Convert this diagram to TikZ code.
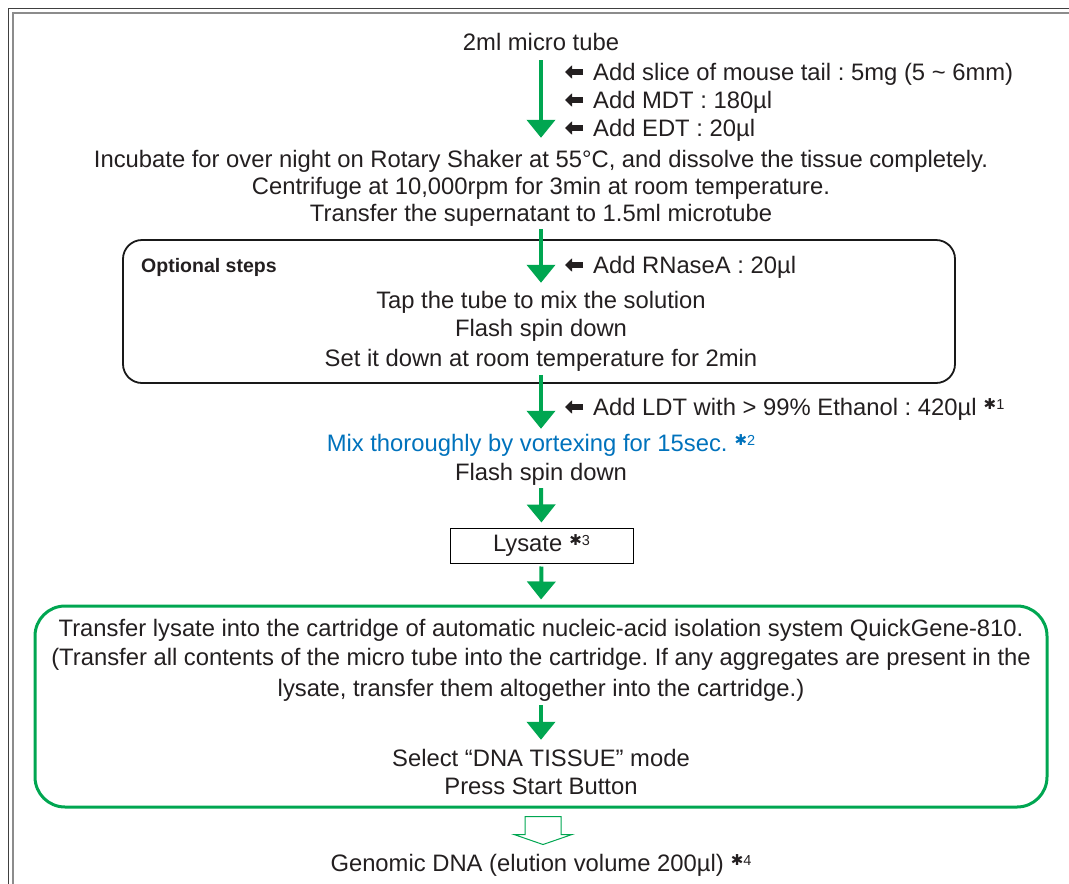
\documentclass[tikz,border=0pt]{standalone}
\usepackage{fontspec}
\setmainfont{Liberation Sans}
\newfontfamily\symfont{DejaVu Sans}
\usetikzlibrary{arrows.meta,calc}
\definecolor{gr}{RGB}{0,166,81}
\definecolor{bl}{RGB}{0,114,188}
\definecolor{tx}{RGB}{35,31,32}
\frenchspacing
\newcommand\astnote[1]{\hspace{7pt}\raisebox{6pt}{{\fontsize{15}{15}\selectfont\symfont ✱}{\fontsize{14.5}{15}\selectfont #1}}}
\tikzset{
  txt/.style={inner sep=0pt, text height=17pt, text depth=5pt, font=\fontsize{23.8}{28}\selectfont\frenchspacing, text=tx},
  garrow/.style={draw=gr, line width=4pt, -{Triangle[length=18pt,width=28pt]}},
  barrow/.style={draw=tx, line width=5.5pt, -{Triangle[length=7pt,width=13pt]}},
  optbox/.style={draw=black!90, line width=1.8pt, rounded corners=19pt, inner sep=0pt},
  grbox/.style={draw=gr, line width=3pt, rounded corners=30pt, inner sep=0pt},
  lybox/.style={draw=black, line width=1pt, inner sep=0pt},
}
\begin{document}
\begin{tikzpicture}[x=1pt,y=-1pt]
\useasboundingbox (0,0) rectangle (1069,884);
% outer frame
\draw[draw=black!75, line width=1pt] (8.5,884) -- (8.5,8.5) -- (1069,8.5);
\draw[draw=black!45, line width=1.5pt] (13,884) -- (13,13) -- (1069,13);

% top section
\node[txt] (tube) at (541,44) {2ml micro tube};
\node[txt, anchor=west] (l1) at (593,74) {Add slice of mouse tail : 5mg (5 \char"007E{} 6mm)};
\node[txt, anchor=west] (l2) at (593,102) {Add MDT : 180µl};
\node[txt, anchor=west] (l3) at (593,130) {Add EDT : 20µl};
\foreach \n in {l1,l2,l3} \draw[barrow] ($(\n.west)+(-10,-2)$) -- ++(-18,0);

\node[txt] (incub) at (541,161) {Incubate for over night on Rotary Shaker at 55°C, and dissolve the tissue completely.};
\node[txt] (centr) at (541,188) {Centrifuge at 10,000rpm for 3min at room temperature.};
\node[txt] (trans) at (541,215) {Transfer the supernatant to 1.5ml microtube};
\draw[garrow, shorten <=5pt, shorten >=12pt] (tube.south) -- (incub.north);

% optional box
\node[optbox, minimum width=832pt, minimum height=143pt] (opt) at (539,311.5) {};
\node[inner sep=0pt, anchor=west, font=\fontsize{19.5}{22}\selectfont\bfseries, text=tx] (optl) at (141,267) {Optional steps};
\node[txt, anchor=west] (l4) at (593,267) {Add RNaseA : 20µl};
\draw[barrow] ($(l4.west)+(-10,-2)$) -- ++(-18,0);
\node[txt] (tap) at (541,302) {Tap the tube to mix the solution};
\node[txt] (flash1) at (541,330) {Flash spin down};
\node[txt] (setd) at (541,360) {Set it down at room temperature for 2min};
\draw[garrow, shorten <=3pt, shorten >=8pt] (trans.south) -- (tap.north);

% after optional
\node[txt, anchor=west] (l5) at (593,409) {Add LDT with > 99\% Ethanol : 420µl\astnote{1}};
\draw[barrow] ($(l5.west)+(-10,-2)$) -- ++(-18,0);
\node[txt, text=bl] (mix) at (541,445) {Mix thoroughly by vortexing for 15sec.\astnote{2}};
\node[txt] (flash2) at (541,474) {Flash spin down};
\draw[garrow, shorten <=-9pt, shorten >=5pt] ([xshift=2pt]opt.south) -- ([xshift=0pt]mix.north);

% lysate
\node[lybox, txt, minimum width=183pt, minimum height=35pt] (lys) at (541.5,545.5) {Lysate\astnote{3}};
\draw[garrow, shorten <=3pt, shorten >=5pt] (flash2.south) -- (lys.north);

% green box
\node[grbox, minimum width=1012pt, minimum height=201pt] (grn) at (541,706.5) {};
\draw[garrow, shorten <=3pt, shorten >=5pt] (lys.south) -- (grn.north);
\node[txt] (g1) at (541,630) {Transfer lysate into the cartridge of automatic nucleic-acid isolation system QuickGene-810.};
\node[txt] (g2) at (541,659) {(Transfer all contents of the micro tube into the cartridge. If any aggregates are present in the};
\node[txt] (g3) at (541,690) {lysate, transfer them altogether into the cartridge.)};
\node[txt] (sel) at (541,760) {Select “DNA TISSUE” mode};
\node[txt] (press) at (541,788) {Press Start Button};
\draw[garrow, shorten <=4pt, shorten >=9pt] (g3.south) -- (sel.north);

% result
\node[txt] (gen) at (541,865) {Genomic DNA (elution volume 200µl)\astnote{4}};
\draw[draw=gr, line width=1pt, line join=miter]
  ($(grn.south)+(-16,8)$) -- ($(grn.south)+(20,8)$) -- ($(grn.south)+(20,26)$) -- ($(grn.south)+(31,26)$)
  -- ($(grn.south)+(2,36)$) -- ($(grn.south)+(-27,26)$) -- ($(grn.south)+(-16,26)$) -- cycle;
\end{tikzpicture}
\end{document}
